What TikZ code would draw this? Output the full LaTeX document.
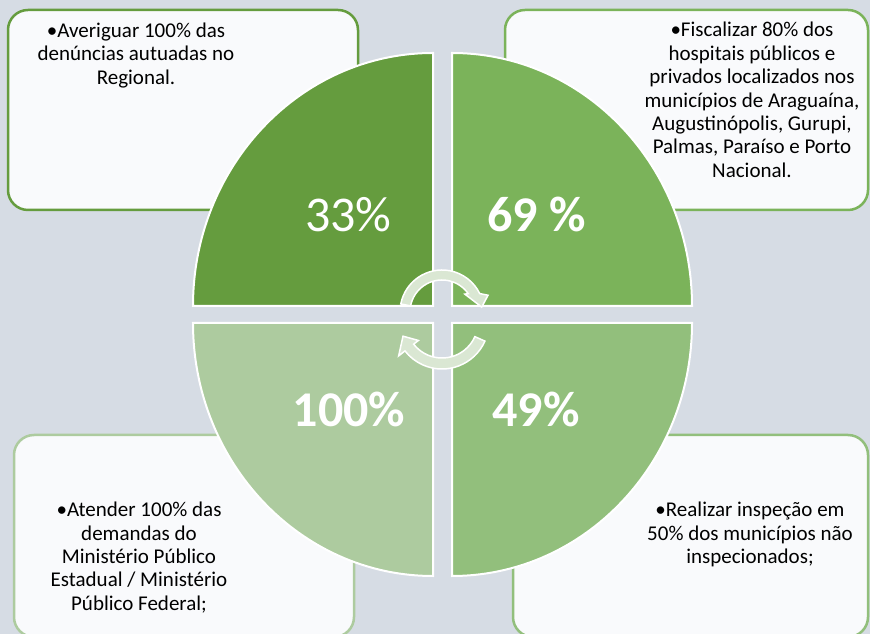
\documentclass[tikz,border=0pt]{standalone}
\usepackage{fontspec}
\setmainfont{Carlito}
\usetikzlibrary{positioning}

\definecolor{bgblue}{HTML}{D6DCE4}
\definecolor{greenA}{HTML}{659C3E}
\definecolor{greenB}{HTML}{7BB35A}
\definecolor{greenC}{HTML}{92BF7C}
\definecolor{greenD}{HTML}{ADCB9F}
\definecolor{boxfill}{HTML}{F9FAFC}
\definecolor{arrowfill}{HTML}{DAE7D3}

\begin{document}
\begin{tikzpicture}[
	x=1pt, y=1pt,
	goalbox/.style = {
		draw, rectangle, rounded corners=20pt, line width=2.5pt,
		fill=boxfill, inner sep=0pt, outer sep=0pt},
	goaltext/.style = {
		align=center, inner sep=0pt, anchor=base,
		font=\fontsize{21}{23.4}\selectfont},
	quarter/.style = {draw=white, line width=2pt},
	pct/.style = {
		text=white, inner sep=0pt, anchor=base,
		font=\fontsize{50}{60}\selectfont},
	turn/.style = {fill=arrowfill, draw=white, line width=1.5pt}
]
\useasboundingbox (0,0) rectangle (870,634);
\fill[bgblue] (0,0) rectangle (870,634);

% the four goal boxes
\node (tlbox) [goalbox, draw=greenA, minimum width=350pt, minimum height=200pt] at (183,524) {};
\node (trbox) [goalbox, draw=greenB, minimum width=363pt, minimum height=200pt] at (686.5,524) {};
\node (blbox) [goalbox, draw=greenD, minimum width=340pt, minimum height=202pt] at (184,98) {};
\node (brbox) [goalbox, draw=greenC, minimum width=355pt, minimum height=202pt] at (690.5,98) {};

% texts sit on the baseline of their last line
\node (tltext) [goaltext] at (136,549.7) {•Averiguar 100\% das\\
                                          denúncias autuadas no\\
                                          Regional.};
\node (trtext) [goaltext] at (752,456.6) {•Fiscalizar 80\% dos\\
                                          hospitais públicos e\\
                                          privados localizados nos\\
                                          municípios de Araguaína,\\
                                          Augustinópolis, Gurupi,\\
                                          Palmas, Paraíso e Porto\\
                                          Nacional.};
\node (bltext) [goaltext] at (139,23.7)  {•Atender 100\% das\\
                                          demandas do\\
                                          Ministério Público\\
                                          Estadual / Ministério\\
                                          Público Federal;};
\node (brtext) [goaltext] at (750,70.5)  {•Realizar inspeção em\\
                                          50\% dos municípios não\\
                                          inspecionados;};

% the pie in four quarters
\filldraw[quarter, fill=greenA] (433,328) -- (193,328)
	arc[start angle=180, end angle=90, x radius=240, y radius=253] -- cycle;
\filldraw[quarter, fill=greenB] (452,328) -- (452,581)
	arc[start angle=90, end angle=0, x radius=240, y radius=253] -- cycle;
\filldraw[quarter, fill=greenD] (433,311) -- (193,311)
	arc[start angle=180, end angle=270, x radius=240, y radius=253] -- cycle;
\filldraw[quarter, fill=greenC] (452,311) -- (692,311)
	arc[start angle=0, end angle=-90, x radius=240, y radius=253] -- cycle;

\node (tlpct) [pct] at (348.5,402) {33\%};
\node (trpct) [pct, font=\fontsize{50}{60}\selectfont\bfseries] at (536.5,402) {69 \%};
\node (blpct) [pct, font=\fontsize{50}{60}\selectfont\bfseries] at (349,207) {100\%};
\node (brpct) [pct, font=\fontsize{50}{60}\selectfont\bfseries] at (536,207) {49\%};

% circular arrows in the middle
\begin{scope}[shift={(442,322)}]
	\filldraw[turn] (169:42) arc[start angle=169, end angle=26, radius=42]
		-- (20:49) -- (7:40) -- (38:29) -- (35:32)
		arc[start angle=35, end angle=169, radius=32] -- cycle;
\end{scope}
\begin{scope}[shift={(442,312)}]
	\filldraw[turn] (-24:47) arc[start angle=-24, end angle=-142, radius=47]
		-- (-142:55) -- (-160:41.5) -- (-142:30) -- (-142:36)
		arc[start angle=-142, end angle=-24, radius=36] -- cycle;
\end{scope}
\end{tikzpicture}
\end{document}
